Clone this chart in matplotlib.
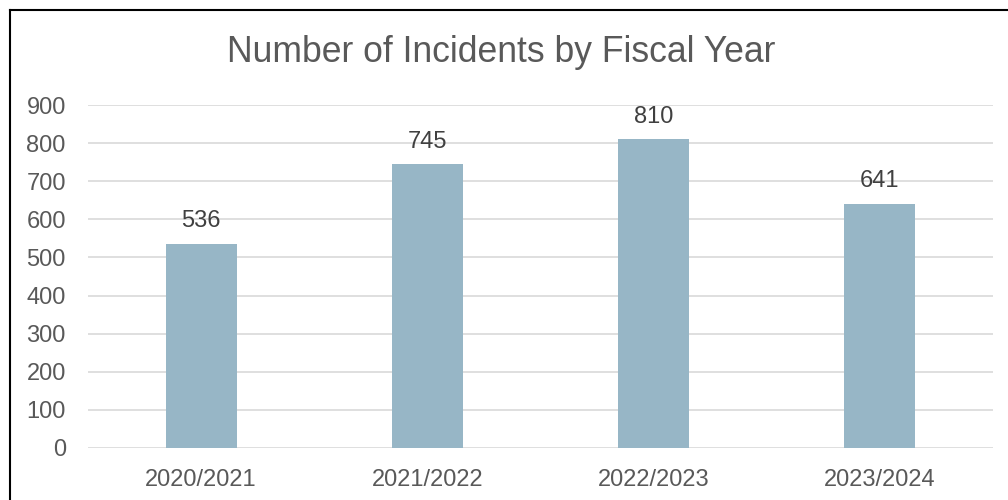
import matplotlib.pyplot as plt

plt.rcParams['font.family'] = ['Liberation Sans', 'DejaVu Sans']

years = ['2020/2021', '2021/2022', '2022/2023', '2023/2024']
incidents = [536, 745, 810, 641]

fig = plt.figure(figsize=(10.08, 5.0), dpi=100)
fig.patch.set_facecolor('white')
ax = fig.add_axes([88 / 1008, 1 - 448 / 500, 905 / 1008, 343 / 500])

bars = ax.bar(range(len(years)), incidents, width=0.314, color='#97B6C6', zorder=3)
ax.set_xlim(-0.5, len(years) - 0.5)
ax.set_ylim(0, 900)
ax.set_yticks(range(0, 1000, 100))
ax.set_xticks(range(len(years)))
ax.set_xticklabels(years)

ax.grid(axis='y', color='#D9D9D9', linewidth=1.2, zorder=0)
for s in ax.spines.values():
    s.set_visible(False)
ax.tick_params(length=0, labelsize=17, labelcolor='#595959')
ax.tick_params(axis='y', pad=16)
ax.tick_params(axis='x', pad=15)

# value labels above bars
for b, v in zip(bars, incidents):
    ax.text(b.get_x() + b.get_width() / 2, v + 30, str(v), ha='center', va='bottom',
            fontsize=17, color='#404040')

fig.text(501 / 1008, 1 - 52 / 500, 'Number of Incidents by Fiscal Year', ha='center',
         va='center', fontsize=25.6, color='#595959')

# chart frame (only top/left edges fall inside the image)
fig.add_artist(plt.Line2D([9.5 / 1008, 9.5 / 1008], [0, 1 - 9.5 / 500], color='black',
                          linewidth=1.5, transform=fig.transFigure))
fig.add_artist(plt.Line2D([9.5 / 1008, 1], [1 - 9.5 / 500, 1 - 9.5 / 500], color='black',
                          linewidth=1.5, transform=fig.transFigure))

fig.savefig('out.png', dpi=100)
